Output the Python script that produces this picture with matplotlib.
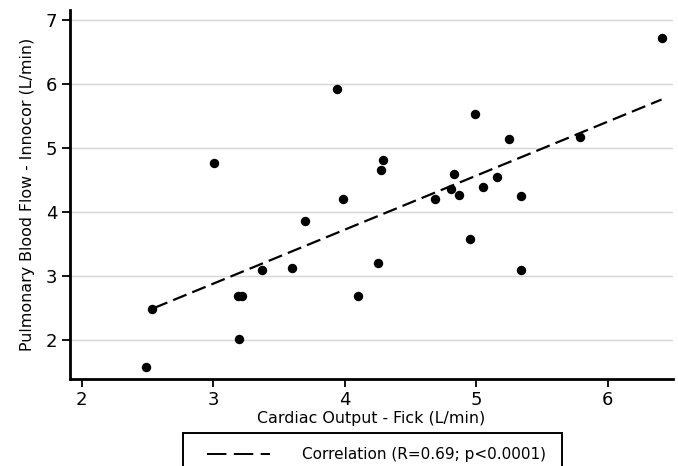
import numpy as np
import matplotlib
matplotlib.use('Agg')
import matplotlib.pyplot as plt
from matplotlib.lines import Line2D
from matplotlib.patches import Rectangle

# Cardiac output (Fick) vs pulmonary blood flow (Innocor), L/min
fick = [2.49, 2.535, 3.01, 3.19, 3.22, 3.20, 3.37, 3.60, 3.695, 3.945, 3.99,
        4.10, 4.25, 4.28, 4.29, 4.69, 4.81, 4.83, 4.87, 4.95, 4.99, 5.05,
        5.16, 5.25, 5.34, 5.34, 5.79, 6.41]
innocor = [1.57, 2.48, 4.76, 2.69, 2.69, 2.02, 3.10, 3.13, 3.86, 5.92, 4.20,
           2.69, 3.21, 4.66, 4.81, 4.20, 4.36, 4.59, 4.27, 3.58, 5.53, 4.40,
           4.55, 5.15, 4.25, 3.10, 5.17, 6.73]

# fitted correlation line end points
fit_x = [2.55, 6.41]
fit_y = [2.50, 5.76]

x_ticks = [2, 3, 4, 5, 6]
y_ticks = [2, 3, 4, 5, 6, 7]
legend_label = 'Correlation (R=0.69; p<0.0001)'

plt.rcParams['font.family'] = ['DejaVu Sans']

fig = plt.figure(figsize=(6.78, 4.66), dpi=100)
ax = fig.add_axes([0.1032, 0.1867, 0.8894, 0.7918])

ax.set_xlim(1.911, 6.497)
ax.set_ylim(1.39, 7.16)

for yt in y_ticks:
    ax.axhline(yt, color='#d6d6d6', lw=1.0, zorder=0)

ax.plot(fit_x, fit_y, color='black', lw=1.6, dashes=(6.5, 2.8), zorder=2)
ax.scatter(fick, innocor, s=46, color='black', zorder=3, linewidths=0)

ax.set_xticks(x_ticks)
ax.set_yticks(y_ticks)
ax.tick_params(axis='both', direction='out', length=6, width=1.3,
               labelsize=13, colors='black', pad=3)

for side in ['top', 'right']:
    ax.spines[side].set_visible(False)
for side in ['left', 'bottom']:
    ax.spines[side].set_linewidth(2)

ax.set_xlabel('Cardiac Output - Fick (L/min)', fontsize=11.4, labelpad=1)
ax.set_ylabel('Pulmonary Blood Flow - Innocor (L/min)', fontsize=11.4, labelpad=8)

# legend box below the plot, running off the bottom edge
box = Rectangle((182.7 / 678, -0.05), (562 - 182.7) / 678, 0.05 + 1 - 433 / 466,
                transform=fig.transFigure, facecolor='white', edgecolor='black',
                lw=1.4, clip_on=False)
fig.patches.append(box)

proxy = Line2D([0], [0], color='black', lw=1.4, dashes=(10, 3.8))
leg = fig.legend([proxy], [legend_label], loc='center left',
                 bbox_to_anchor=(206.7 / 678, 1 - 455 / 466),
                 fontsize=11, frameon=False,
                 handlelength=4.14, handletextpad=2.1, borderpad=0,
                 borderaxespad=0)

fig.savefig('out.png', dpi=100)
